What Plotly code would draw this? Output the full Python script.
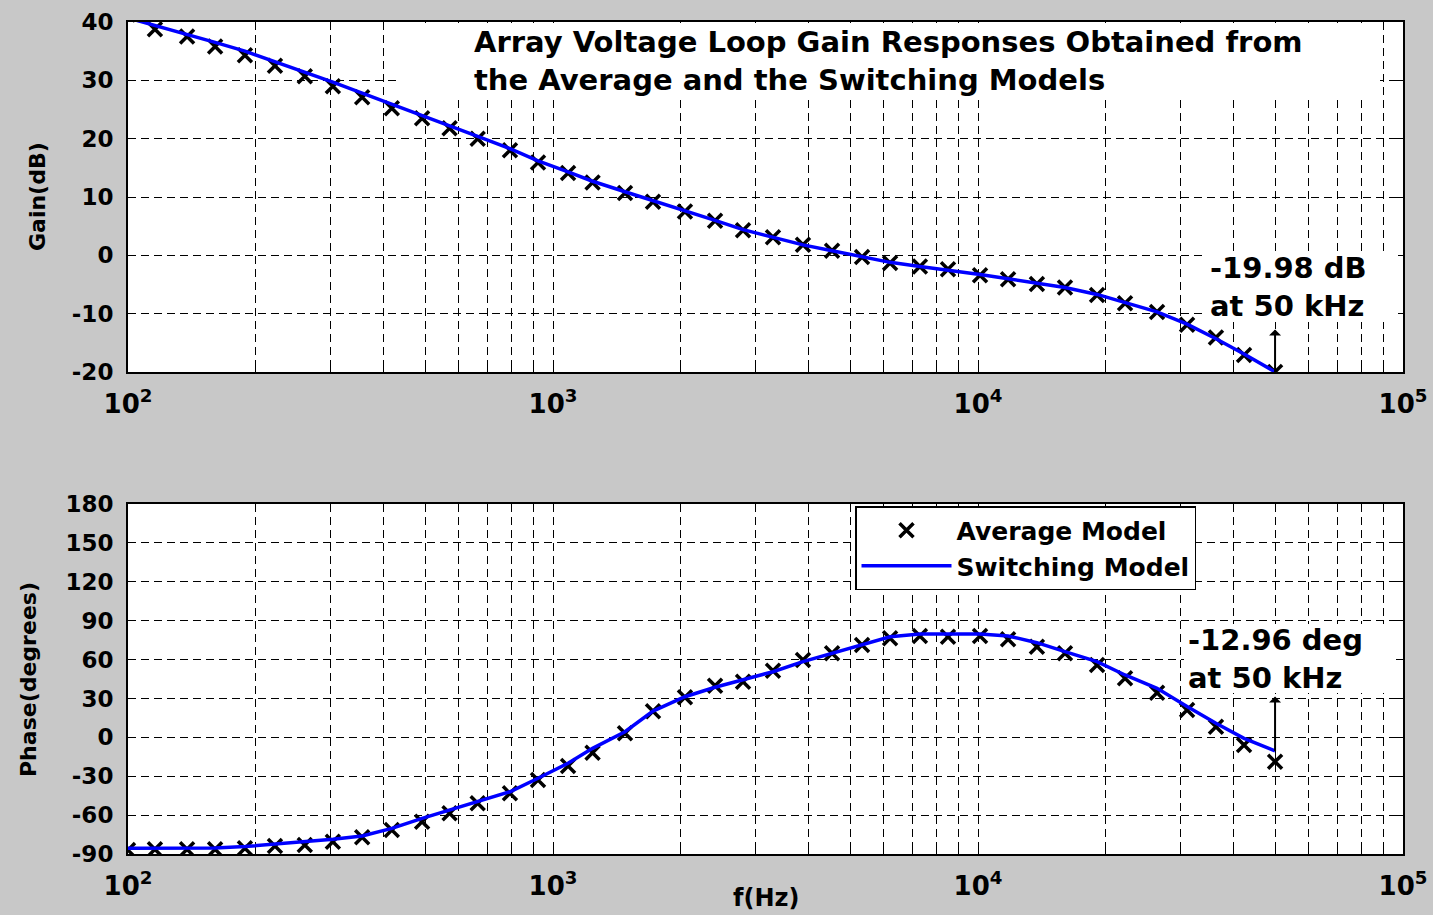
import plotly.graph_objects as go
from plotly.subplots import make_subplots

# ---------------- data ----------------
freq_hz = [100, 115.7, 137.7, 160.3, 188.4, 221.7, 260.6, 303.4, 355.6, 417.6,
           492, 571, 665, 792, 922, 1085, 1239, 1477, 1719, 2044,
           2406, 2800, 3293, 3874, 4535, 5335, 6210, 7300, 8500, 10110,
           11770, 13760, 16020, 19060, 22180, 26380, 31040, 36300, 42260, 50000]

gain_average_db = [41.3, 38.75, 37.5, 35.8, 34.3, 32.5, 30.7, 29.0, 27.1, 25.2,
                   23.5, 21.8, 20.0, 18.0, 15.9, 14.1, 12.5, 10.7, 9.2, 7.5,
                   5.95, 4.3, 3.1, 1.8, 0.8, -0.3, -1.3, -1.9, -2.4, -3.4,
                   -4.1, -4.9, -5.5, -6.8, -8.2, -9.7, -11.9, -14.1, -17.1, -19.98]

gain_switching_db = [40.7, 39.4, 38.0, 36.5, 35.0, 33.2, 31.4, 29.7, 27.8, 25.9,
                     24.1, 22.3, 20.4, 18.3, 16.2, 14.3, 12.7, 10.9, 9.4, 7.6,
                     6.0, 4.4, 3.1, 1.8, 0.8, -0.3, -1.2, -1.9, -2.5, -3.3,
                     -4.0, -4.8, -5.5, -6.7, -8.1, -9.7, -11.8, -14.3, -16.9, -19.98]

phase_average_deg = [-87, -86.4, -86.4, -86.4, -85.6, -83.8, -83.0, -80.5, -77.1, -71.5,
                     -65.1, -58.6, -50.9, -43.2, -33.0, -22.1, -11.9, 3.1, 20.2, 30.9,
                     39.8, 42.9, 51.4, 59.7, 64.8, 71.2, 76.4, 78.2, 77.6, 78.2,
                     75.6, 69.9, 64.8, 55.8, 45.5, 34.4, 21.1, 8.2, -5.9, -18.8]

phase_switching_deg = [-85.6, -85.6, -85.6, -85.4, -84.3, -82.5, -81.0, -78.7, -76.1, -70.2,
                       -62.5, -56.0, -49.6, -42.0, -31.6, -20.0, -8.5, 4.3, 20.2, 31.3,
                       38.6, 44.2, 50.6, 58.4, 64.8, 72.0, 77.6, 79.7, 80.0, 79.7,
                       78.2, 73.0, 66.1, 58.4, 48.1, 37.8, 23.7, 10.8, -0.8, -10.5]

major_x_ticks = [100, 1000, 10000, 100000]
major_x_labels = ["10<sup>2</sup>", "10<sup>3</sup>", "10<sup>4</sup>", "10<sup>5</sup>"]
minor_x_grid = [200, 300, 400, 500, 600, 700, 800, 900,
                2000, 3000, 4000, 5000, 6000, 7000, 8000, 9000,
                20000, 30000, 40000, 50000, 60000, 70000, 80000, 90000]
gain_ticks = [-20, -10, 0, 10, 20, 30, 40]
gain_tick_labels = ["-20", "-10", "0", "10", "20", "30", "40"]
phase_ticks = [-90, -60, -30, 0, 30, 60, 90, 120, 150, 180]
phase_tick_labels = ["-90", "-60", "-30", "0", "30", "60", "90", "120", "150", "180"]

marker_freq = 50000
gain_at_marker = -19.98
phase_at_marker = -10.5

# ---------------- figure ----------------
FONT = "DejaVu Sans"
fig = make_subplots(rows=2, cols=1, vertical_spacing=0.1586)

x_marker = dict(symbol="x-thin", size=14, color="black", line=dict(width=3.5, color="black"))

fig.add_trace(go.Scatter(x=freq_hz, y=gain_average_db, mode="markers", name="Average Model",
                         marker=x_marker, showlegend=False), row=1, col=1)
fig.add_trace(go.Scatter(x=freq_hz, y=gain_switching_db, mode="lines", name="Switching Model",
                         line=dict(color="#0000ff", width=3.5), showlegend=False), row=1, col=1)
fig.add_trace(go.Scatter(x=freq_hz, y=phase_average_deg, mode="markers", name="Average Model",
                         marker=x_marker), row=2, col=1)
fig.add_trace(go.Scatter(x=freq_hz, y=phase_switching_deg, mode="lines", name="Switching Model",
                         line=dict(color="#0000ff", width=3.5)), row=2, col=1)

grid_common = dict(showgrid=True, gridcolor="black", gridwidth=1.4, griddash="8px,5px",
                   showline=True, linecolor="black", linewidth=2, mirror="allticks",
                   ticks="inside", ticklen=6, tickcolor="black", zeroline=False,
                   automargin=False)

for r in (1, 2):
    fig.update_xaxes(type="log", range=[2, 5], tickvals=major_x_ticks, ticktext=major_x_labels,
                     tickfont=dict(family=FONT, size=26, color="black", weight="bold"),
                     ticklabelstandoff=8,
                     minor=dict(tickvals=minor_x_grid, showgrid=True, gridcolor="black",
                                gridwidth=1.4, griddash="8px,5px", ticks="inside",
                                ticklen=4, tickcolor="black"),
                     **grid_common, row=r, col=1)

fig.update_yaxes(range=[-20, 40], tickvals=gain_ticks, ticktext=gain_tick_labels,
                 tickfont=dict(family=FONT, size=23, color="black", weight="bold"),
                 ticklabelstandoff=8, **grid_common, row=1, col=1)
fig.update_yaxes(range=[-90, 180], tickvals=phase_ticks, ticktext=phase_tick_labels,
                 tickfont=dict(family=FONT, size=23, color="black", weight="bold"),
                 ticklabelstandoff=8, **grid_common, row=2, col=1)


# paper-coordinate helpers (plot area: x 128..1403 px, y 22..854 px)
def px_x(p):
    return (p - 128) / 1275.0


def px_y(p):
    return (854 - p) / 832.0


title_font = dict(family=FONT, size=29, color="black", weight="bold")
ann_font = dict(family=FONT, size=29, color="black", weight="bold")
lab_font = dict(family=FONT, size=22, color="black", weight="bold")


def text_block(txt, x_px, y_px, font, xanchor="left"):
    return dict(text=txt, xref="paper", yref="paper", x=px_x(x_px), y=px_y(y_px),
                xanchor=xanchor, yanchor="middle", align="left", showarrow=False, font=font)


def white_box(x0, y0, x1, y1):
    return dict(type="rect", xref="paper", yref="paper", layer="above",
                x0=px_x(x0), x1=px_x(x1), y0=px_y(y1), y1=px_y(y0),
                fillcolor="white", line=dict(width=0))


shapes = [
    white_box(398, 23, 1380, 98),
    white_box(1206, 254, 1398, 322),
    white_box(1184, 624, 1396, 693),
]

annotations = [
    text_block("Array Voltage Loop Gain Responses Obtained from<br>"
               "the Average and the Switching Models", 889, 61, title_font, xanchor="center"),
    text_block("-19.98 dB<br>at 50 kHz", 1208, 287, ann_font),
    text_block("-12.96 deg<br>at 50 kHz", 1186, 659, ann_font),
    dict(text="", xref="x", yref="y", x=4.69897, y=gain_at_marker, ax=0, ay=-44,
         showarrow=True, arrowside="start", arrowhead=2, arrowsize=1.6, arrowwidth=2,
         arrowcolor="black", standoff=0, startstandoff=0),
    dict(text="", xref="x2", yref="y2", x=4.69897, y=phase_at_marker, ax=0, ay=-56,
         showarrow=True, arrowside="start", arrowhead=2, arrowsize=1.6, arrowwidth=2,
         arrowcolor="black", standoff=0, startstandoff=0),
    dict(text="Gain(dB)", xref="paper", yref="paper", x=px_x(38), y=px_y(197), textangle=-90,
         xanchor="center", yanchor="middle", showarrow=False, font=lab_font),
    dict(text="Phase(degrees)", xref="paper", yref="paper", x=px_x(28), y=px_y(680),
         textangle=-90, xanchor="center", yanchor="middle", showarrow=False, font=lab_font),
    dict(text="f(Hz)", xref="paper", yref="paper", x=px_x(766), y=px_y(898),
         xanchor="center", yanchor="middle", showarrow=False,
         font=dict(family=FONT, size=24, color="black", weight="bold")),
]

fig.update_layout(
    width=1433, height=915,
    margin=dict(l=128, r=30, t=22, b=61, autoexpand=False),
    paper_bgcolor="#c8c8c8", plot_bgcolor="white",
    annotations=annotations,
    shapes=shapes,
    legend=dict(x=px_x(855), y=px_y(506), xanchor="left", yanchor="top",
                bgcolor="white", bordercolor="black", borderwidth=1.5,
                font=dict(family=FONT, size=25, color="black", weight="bold"),
                itemwidth=90, tracegroupgap=0),
)

fig.write_html("out.html", config={"displayModeBar": False},
               post_script="document.body.style.margin='0';document.body.style.overflow='hidden';")
